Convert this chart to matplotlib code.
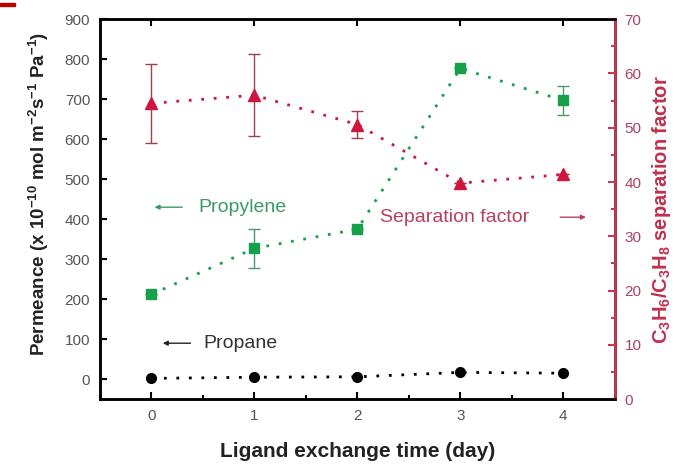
import matplotlib
matplotlib.use("Agg")
import matplotlib.pyplot as plt
from matplotlib.patches import Rectangle
from matplotlib.ticker import MultipleLocator

plt.rcParams['font.family'] = ['Liberation Sans', 'DejaVu Sans']
plt.rcParams['mathtext.default'] = 'regular'

days = [0, 1, 2, 3, 4]
propylene = [212, 327, 375, 777, 697]
propylene_err = [0, 48, 0, 0, 36]
propane = [2, 5, 6, 17, 15]
sep_factor = [54.5, 56.0, 50.6, 39.8, 41.4]
sep_err = [7.3, 7.6, 2.4, 0, 0]

green = '#17a04c'
red = '#d0153f'
red_axis = '#c8384f'
tick_gray = '#555555'

fig = plt.figure(figsize=(6.8, 4.68), dpi=100)
ax = fig.add_axes([0.147, 0.147, 0.757, 0.812])
ax2 = ax.twinx()

dot = (0, (1, 3.5))
ax.errorbar(days, propylene, yerr=propylene_err, color=green, marker='s', ms=7,
            ls=dot, lw=2, ecolor='#4a9a66', elinewidth=1, capsize=4, capthick=1)
ax.plot(days, propane, color='black', marker='o', ms=7, ls=dot, lw=2)
ax2.errorbar(days, sep_factor, yerr=sep_err, color=red, marker='^', ms=9,
             ls=dot, lw=2, ecolor='#a0404f', elinewidth=1, capsize=4, capthick=1)

ax.set_xlim(-0.5, 4.5)
ax.set_ylim(-50, 900)
ax2.set_ylim(0, 70)
ax.set_xticks(days)
ax.xaxis.set_minor_locator(MultipleLocator(0.5))
ax.set_yticks(range(0, 901, 100))
ax2.set_yticks(range(0, 71, 10))
ax2.yaxis.set_minor_locator(MultipleLocator(5))

ax.tick_params(axis='both', which='both', direction='in', top=True, width=1.5,
               labelsize=11, labelcolor=tick_gray, pad=7)
ax.tick_params(axis='x', which='minor', top=False, length=3)
ax.tick_params(axis='both', which='major', length=5)
ax2.tick_params(axis='y', which='both', direction='in', width=1.5, color=red_axis,
                labelsize=11, labelcolor='#b04060', pad=7)
ax2.tick_params(axis='y', which='major', length=5)
ax2.tick_params(axis='y', which='minor', length=3)

for s in ax.spines.values():
    s.set_linewidth(1.8)
for s in ax2.spines.values():
    s.set_linewidth(1.8)
ax2.spines['right'].set_color(red_axis)

ax.set_xlabel('Ligand exchange time (day)', fontsize=15, fontweight='bold',
              color='#222222', labelpad=14)
ax.set_ylabel('Permeance (x 10$^{-10}$ mol m$^{-2}$s$^{-1}$ Pa$^{-1}$)', fontsize=13.5,
              fontweight='bold', color='#222222', labelpad=10)
ax.yaxis.label.set_y(0.54)
ax2.set_ylabel('C$_3$H$_6$/C$_3$H$_8$ separation factor', fontsize=14.5,
               fontweight='bold', color='#c0304f', labelpad=6)

arrow = dict(arrowstyle='-|>', lw=1, mutation_scale=7, shrinkA=0, shrinkB=0)
ax.annotate('', xy=(0.03, 430), xytext=(0.3, 430),
            arrowprops=dict(arrow, color='#3a9a66'))
ax.text(0.46, 430, 'Propylene', color='#3a9a6a', fontsize=14, va='center')
ax.annotate('', xy=(4.22, 405), xytext=(3.97, 405),
            arrowprops=dict(arrow, color='#b8405e'))
ax.text(2.22, 405, 'Separation factor', color='#b8405e', fontsize=14, va='center')
ax.annotate('', xy=(0.11, 90), xytext=(0.38, 90),
            arrowprops=dict(arrow, color='#222222'))
ax.text(0.5, 90, 'Propane', color='#333333', fontsize=14, va='center')

fig.add_artist(Rectangle((0, 1 - 6 / 468), 15 / 680, 3 / 468,
                         transform=fig.transFigure, color='#c00000'))

fig.savefig('out.png', dpi=100)
